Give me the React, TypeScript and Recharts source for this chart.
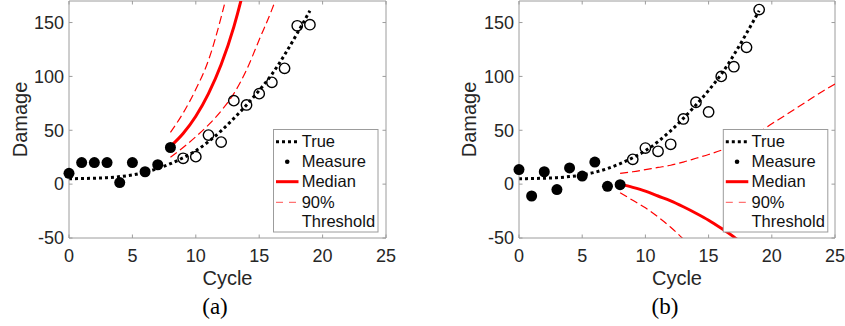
import { ComposedChart, Line, Scatter, XAxis, YAxis, ReferenceLine, Label } from "recharts";

// cycles 0..19 (measured / true)
const cycles = [0, 1, 2, 3, 4, 5, 6, 7, 8, 9, 10, 11, 12, 13, 14, 15, 16, 17, 18, 19];
const trueDamage = [5, 5.2, 5.5, 6, 7, 8.5, 11, 14.5, 19, 24.5, 31, 39.5, 49.5, 61, 73.5, 87, 102, 120, 140, 161];
const lastUsed = 8; // measurements up to this cycle are filled

// panel (a)
const measureA = [10, 20, 20, 20, 1.5, 20, 11.5, 18, 34, 24, 25.5, 45.5, 39, 77.5, 73.5, 84, 94.5, 107.5, 147, 148];
const predCyclesA = [8, 9, 10, 11, 12, 13, 14, 15, 16, 17];
const medianA = [35, 47, 63, 84, 111, 146, 192, 250, 320, 410];
const upperA = [48, 66, 88, 115, 155, 205, 270, 350, 450, 580];
const lowerA = [25, 34, 44, 55, 68, 84, 106, 134, 162, 195];

// panel (b)
const measureB = [13.5, -11, 11.5, -5, 15, 7.5, 20.5, -2, -0.5, 23, 33.5, 30.5, 37, 60.5, 76, 67, 100, 109, 127, 162];
const predCyclesB = [8, 9, 10, 11, 12, 13, 14, 15, 16, 17, 18, 19, 20, 21, 22, 23, 24, 25];
const medianB = [0, -3, -6.5, -11, -15.5, -21, -27, -33.5, -41, -49, -58, -68, -79, -91, -104, -118, -133, -149];
const upperB = [10, 11.5, 13.5, 15.5, 17.5, 20.5, 24, 27.5, 31.5, 36, 41, 48, 56, 63.5, 71, 78.5, 86, 93];
const lowerB = [-8, -15, -22, -30.5, -40, -51, -63, -76, -90, -105, -121, -138, -156, -175, -195, -216, -238, -261];

const xTicks = [0, 5, 10, 15, 20, 25];
const yTicks = [-50, 0, 50, 100, 150];
const legendItems = ["True", "Measure", "Median", "90%", "Threshold"];

const AXIS = "#9c9c9c";
const TEXT = "#262626";
const RED = "#ff0000";
const SANS = "Arial, 'Liberation Sans', Helvetica, sans-serif";
const SERIF = "'Times New Roman', 'Liberation Serif', serif";
const PLOT_H = 237;

const rows = (xs: number[], ys: number[]) => xs.map((x, i) => ({ x, y: ys[i] }));

const XTick = (p: any) => {
  const { x, y, payload, plotH } = p;
  const base = y - 11;
  return (
    <g>
      <line x1={x} x2={x} y1={base} y2={base - 3.5} stroke={AXIS} />
      <line x1={x} x2={x} y1={base - plotH} y2={base - plotH + 3.5} stroke={AXIS} />
      <text x={x} y={y} dy="0.71em" textAnchor="middle" fill={TEXT} fontSize={18} fontFamily={SANS}>
        {payload.value}
      </text>
    </g>
  );
};

const YTick = (p: any) => {
  const { x, y, payload, plotW } = p;
  const ax = x + 5;
  return (
    <g>
      <line x1={ax} x2={ax + 3.5} y1={y} y2={y} stroke={AXIS} />
      <line x1={ax + plotW - 3.5} x2={ax + plotW} y1={y} y2={y} stroke={AXIS} />
      <text x={x} y={y} dy="0.35em" textAnchor="end" fill={TEXT} fontSize={18} fontFamily={SANS}>
        {payload.value}
      </text>
    </g>
  );
};

const filledDot = (p: any) => <circle cx={p.cx} cy={p.cy} r={5.5} fill="#000" />;
const openDot = (p: any) => <circle cx={p.cx} cy={p.cy} r={5.2} fill="none" stroke="#000" strokeWidth={1.4} />;

type PanelProps = {
  left: number;
  width: number;
  axisW: number;
  rightM: number;
  yLabelX: number;
  measure: number[];
  predX: number[];
  median: number[];
  upper: number[];
  lower: number[];
};

const Panel = ({ left, width, axisW, rightM, yLabelX, measure, predX, median, upper, lower }: PanelProps) => {
  const plotW = width - axisW - rightM;
  const truth = rows(cycles, trueDamage);
  const filled = rows(cycles.slice(0, lastUsed + 1), measure.slice(0, lastUsed + 1));
  const open = rows(cycles.slice(lastUsed + 1), measure.slice(lastUsed + 1));
  return (
    <div style={{ position: "absolute", left, top: 0, width, height: 326 }}>
      <ComposedChart width={width} height={326} margin={{ top: 1, right: rightM, left: 0, bottom: 0 }}>
        <XAxis
          type="number"
          dataKey="x"
          domain={[0, 25]}
          ticks={xTicks}
          interval={0}
          allowDataOverflow
          height={88}
          tickSize={0}
          tickMargin={11}
          tickLine={false}
          stroke={AXIS}
          tick={(p: any) => <XTick {...p} plotH={PLOT_H} />}
        >
          <Label
            value="Cycle"
            position="insideTop"
            offset={33}
            style={{ fontSize: 20, fontFamily: SANS, fill: TEXT }}
          />
        </XAxis>
        <YAxis
          type="number"
          dataKey="y"
          domain={[-50, 170]}
          ticks={yTicks}
          interval={0}
          allowDataOverflow
          width={axisW}
          tickSize={0}
          tickMargin={5}
          tickLine={false}
          stroke={AXIS}
          tick={(p: any) => <YTick {...p} plotW={plotW} />}
        >
          <Label
            value="Damage"
            angle={-90}
            position="insideLeft"
            offset={yLabelX}
            style={{ fontSize: 20, fontFamily: SANS, fill: TEXT, textAnchor: "middle" }}
          />
        </YAxis>
        {/* unclipped axes for the markers */}
        <XAxis xAxisId="pts" type="number" dataKey="x" domain={[0, 25]} hide />
        <YAxis yAxisId="pts" type="number" dataKey="y" domain={[-50, 170]} hide />
        <ReferenceLine x={25} stroke={AXIS} />
        <ReferenceLine y={170} stroke={AXIS} />
        <Line data={rows(predX, lower)} dataKey="y" type="monotone" stroke={RED} strokeWidth={1.2} strokeDasharray="8 4" dot={false} isAnimationActive={false} />
        <Line data={rows(predX, upper)} dataKey="y" type="monotone" stroke={RED} strokeWidth={1.2} strokeDasharray="8 4" dot={false} isAnimationActive={false} />
        <Line data={rows(predX, median)} dataKey="y" type="monotone" stroke={RED} strokeWidth={3} dot={false} isAnimationActive={false} />
        <Line data={truth} dataKey="y" type="monotone" stroke="#000" strokeWidth={3} strokeDasharray="3 3" dot={false} isAnimationActive={false} />
        <Scatter data={filled} dataKey="y" xAxisId="pts" yAxisId="pts" shape={filledDot} isAnimationActive={false} />
        <Scatter data={open} dataKey="y" xAxisId="pts" yAxisId="pts" shape={openDot} isAnimationActive={false} />
      </ComposedChart>
    </div>
  );
};

const LegendBox = ({ x, y }: { x: number; y: number }) => {
  const w = 104.5;
  const h = 102.5;
  const rowY = [12.2, 32.2, 52.2, 72.8, 92.2];
  const sx1 = x + 2.5;
  const sx2 = x + 25;
  return (
    <g>
      <rect x={x} y={y} width={w} height={h} fill="#fff" stroke={AXIS} strokeWidth={1} />
      <line x1={sx1} x2={sx2} y1={y + rowY[0]} y2={y + rowY[0]} stroke="#000" strokeWidth={3} strokeDasharray="3 3" />
      <circle cx={(sx1 + sx2) / 2} cy={y + rowY[1]} r={2.3} fill="#000" />
      <line x1={sx1} x2={sx2} y1={y + rowY[2]} y2={y + rowY[2]} stroke={RED} strokeWidth={3} />
      <line x1={sx1} x2={sx2} y1={y + rowY[3]} y2={y + rowY[3]} stroke="#ff5050" strokeWidth={1} strokeDasharray="7 6" />
      {legendItems.map((t, i) => (
        <text key={t} x={x + 28.2} y={y + rowY[i]} dy="0.35em" fontSize={16.5} fontFamily={SANS} fill="#111">
          {t}
        </text>
      ))}
    </g>
  );
};

export default function App() {
  return (
    <div style={{ position: "absolute", left: 0, top: 0, width: 845, height: 326, background: "#fff", overflow: "hidden" }}>
      <Panel left={0} width={420} axisW={69} rightM={34} yLabelX={20} measure={measureA} predX={predCyclesA} median={medianA} upper={upperA} lower={lowerA} />
      <Panel left={422} width={423} axisW={97} rightM={10} yLabelX={47} measure={measureB} predX={predCyclesB} median={medianB} upper={upperB} lower={lowerB} />
      <svg width={845} height={326} style={{ position: "absolute", left: 0, top: 0, pointerEvents: "none" }}>
        <LegendBox x={273.5} y={129.5} />
        <LegendBox x={723.3} y={129.5} />
        <text x={215} y={314} textAnchor="middle" fontSize={23} fontFamily={SERIF} fill="#000">(a)</text>
        <text x={665} y={314} textAnchor="middle" fontSize={23} fontFamily={SERIF} fill="#000">(b)</text>
      </svg>
    </div>
  );
}
